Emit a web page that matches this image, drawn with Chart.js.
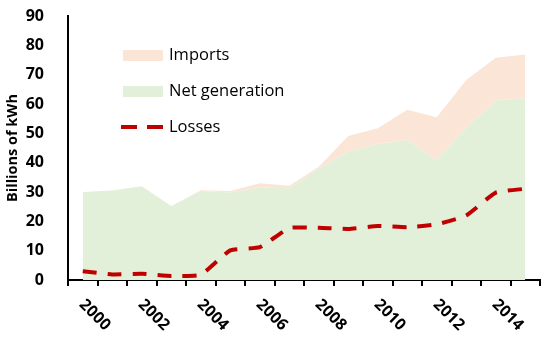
<!DOCTYPE html>
<html>
<head>
<meta charset="utf-8">
<script src="https://cdn.jsdelivr.net/npm/chart.js@4"></script>
<style>
  html, body { margin: 0; padding: 0; background: #fff; }
  #wrap { width: 550px; height: 344px; }
</style>
</head>
<body>
<div id="wrap"><canvas id="chart" width="550" height="344"></canvas></div>
<script>
// Years on the x axis (one point per year)
const years = ["2000", "2001", "2002", "2003", "2004", "2005", "2006", "2007",
               "2008", "2009", "2010", "2011", "2012", "2013", "2014", "2015"];
// Only every other year gets a label
const yearLabels = ["2000", "2002", "2004", "2006", "2008", "2010", "2012", "2014"];

// Billions of kWh
const netGeneration = [30, 30.5, 32, 25.2, 30.3, 29.8, 31.5, 31.3, 38, 43.7, 46.4, 47.7, 40.7, 52, 61.1, 62];
const imports       = [0, 0, 0, 0, 0.3, 0.5, 1.5, 0.8, 0.6, 5.4, 5.3, 10.3, 14.8, 16.2, 14.7, 14.9];
const losses        = [3.0, 1.9, 2.1, 1.4, 1.8, 10.1, 11.2, 17.7, 17.8, 17.4, 18.4, 18.0, 19.0, 22.0, 29.8, 31.1];

const yTicks = [0, 10, 20, 30, 40, 50, 60, 70, 80, 90];

const pink = "#FBE5D6";
const green = "#E2F0D9";
const red = "#C00000";

// draws the rotated year labels and the legend inside the plot
const customDraw = {
    id: "customDraw",
    afterDraw(chart) {
        const ctx = chart.ctx;
        const xs = chart.scales.x;

        ctx.save();
        ctx.fillStyle = "#000";
        ctx.font = "bold 16px 'Open Sans'";
        ctx.textAlign = "left";
        ctx.textBaseline = "middle";
        yearLabels.forEach(label => {
            const x = xs.getPixelForValue(years.indexOf(label));
            ctx.save();
            ctx.translate(x - 1, 302);
            ctx.rotate(Math.PI / 4);
            ctx.fillText(label, 0, 0);
            ctx.restore();
        });
        ctx.restore();

        // legend
        const ds = chart.data.datasets;
        const items = [
            { label: ds[1].label, kind: "box", color: pink, y: 55 },
            { label: ds[0].label, kind: "box", color: green, y: 91 },
            { label: ds[2].label, kind: "line", color: red, y: 127 }
        ];
        ctx.save();
        ctx.font = "16.5px 'Open Sans'";
        ctx.textBaseline = "middle";
        items.forEach(item => {
            if (item.kind === "box") {
                ctx.fillStyle = item.color;
                ctx.fillRect(123, item.y - 5, 40, 11);
            } else {
                ctx.strokeStyle = item.color;
                ctx.lineWidth = 4;
                ctx.beginPath();
                ctx.moveTo(121, item.y); ctx.lineTo(137, item.y);
                ctx.moveTo(147, item.y); ctx.lineTo(163, item.y);
                ctx.stroke();
            }
            ctx.fillStyle = "#000";
            ctx.fillText(item.label, 169, item.y);
        });
        ctx.restore();
    }
};

new Chart(document.getElementById("chart"), {
    type: "line",
    data: {
        labels: years,
        datasets: [
            {
                label: "Net generation",
                data: netGeneration,
                stack: "supply",
                fill: "origin",
                backgroundColor: green,
                borderWidth: 0,
                pointRadius: 0,
                order: 2
            },
            {
                label: "Imports",
                data: imports,
                stack: "supply",
                fill: "-1",
                backgroundColor: pink,
                borderWidth: 0,
                pointRadius: 0,
                order: 2
            },
            {
                label: "Losses",
                data: losses,
                stack: "loss",
                fill: false,
                borderColor: red,
                borderWidth: 4,
                borderDash: [14, 11],
                tension: 0.15,
                pointRadius: 0,
                order: 1
            }
        ]
    },
    options: {
        responsive: false,
        animation: false,
        layout: { padding: { top: 16, right: 10, bottom: 58, left: 0 } },
        plugins: {
            legend: { display: false },
            tooltip: { enabled: false }
        },
        scales: {
            x: {
                offset: true,
                grid: {
                    display: true,
                    offset: true,
                    drawOnChartArea: false,
                    drawTicks: true,
                    tickLength: 6,
                    color: "#000",
                    lineWidth: 2
                },
                border: { display: true, color: "#000", width: 2 },
                ticks: { display: false }
            },
            y: {
                stacked: true,
                min: 0,
                max: 90,
                afterBuildTicks: scale => {
                    scale.ticks = yTicks.map(v => ({ value: v }));
                },
                afterFit: scale => {
                    scale.width = 68;
                    scale.paddingTop = 0;
                    scale.paddingBottom = 0;
                },
                grid: { display: false },
                border: { display: true, color: "#000", width: 2 },
                ticks: {
                    padding: 16,
                    color: "#000",
                    font: { family: "'Open Sans'", size: 16, weight: "bold" }
                },
                title: {
                    display: true,
                    text: "Billions of kWh",
                    color: "#000",
                    font: { family: "'Open Sans'", size: 14.5, weight: "bold" }
                }
            }
        }
    },
    plugins: [customDraw]
});
</script>
</body>
</html>
